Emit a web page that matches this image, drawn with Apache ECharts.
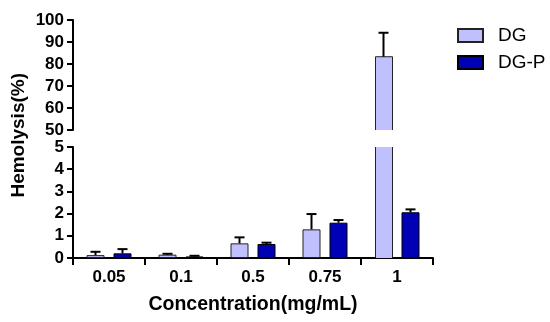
<!DOCTYPE html>
<html>
<head>
<meta charset="utf-8">
<script src="https://cdn.jsdelivr.net/npm/echarts@6/dist/echarts.min.js"></script>
<style>html,body{margin:0;padding:0;background:#fff}#c{width:550px;height:322px}</style>
</head>
<body>
<div id="c"></div>
<script>
const categories = ['0.05', '0.1', '0.5', '0.75', '1'];
const dgMean = [0.13, 0.15, 0.66, 1.29, 83.3];
const dgErr = [0.15, 0.04, 0.27, 0.69, 10.9];
const dgpMean = [0.21, 0.07, 0.63, 1.59, 2.06];
const dgpErr = [0.19, 0.03, 0.06, 0.12, 0.13];
const lowerTicks = [0, 1, 2, 3, 4, 5];
const upperTicks = [50, 60, 70, 80, 90, 100];

const LOW_MAX = lowerTicks[lowerTicks.length - 1];
const UP_MIN = upperTicks[0];
const DG_COLOR = '#c0c0ff';
const DGP_COLOR = '#0000b4';
const BAR_RATIO = 0.25, GAP_RATIO = 0.5;
const FONT = '"Liberation Sans", Arial, sans-serif';

function errData(means, errs, sign, upper) {
  const out = [];
  means.forEach((m, i) => {
    const top = m + errs[i];
    if (upper ? m >= UP_MIN : top <= LOW_MAX) out.push([i, m, top, sign]);
  });
  return out;
}

function renderErr(params, api) {
  const idx = api.value(0);
  const p0 = api.coord([idx, api.value(1)]);
  const p1 = api.coord([idx, api.value(2)]);
  const band = api.size([1, 0])[0];
  const bw = band * BAR_RATIO;
  const offset = api.value(3) * (bw + bw * GAP_RATIO) / 2;
  const x = p0[0] + offset;
  const cap = 5;
  const style = { stroke: '#000', lineWidth: 2 };
  return {
    type: 'group',
    children: [
      { type: 'line', shape: { x1: x, y1: p0[1], x2: x, y2: p1[1] }, style },
      { type: 'line', shape: { x1: x - cap, y1: p1[1], x2: x + cap, y2: p1[1] }, style }
    ]
  };
}

// Bar that crosses the axis break: drawn with outline on sides and top only.
function renderBreakBar(params, api) {
  const idx = api.value(0);
  const band = api.size([1, 0])[0];
  const bw = band * BAR_RATIO;
  const offset = api.value(3) * (bw + bw * GAP_RATIO) / 2;
  const pBase = api.coord([idx, api.value(1)]);
  const pTop = api.coord([idx, api.value(2)]);
  const cx = pBase[0] + offset;
  const x0 = Math.round(cx - bw / 2) + 0.5, x1 = Math.round(cx + bw / 2) - 0.5;
  const yb = pBase[1], yt = pTop[1];
  const children = [
    { type: 'rect', shape: { x: x0, y: yt, width: x1 - x0, height: yb - yt }, style: { fill: api.value(5) ? DG_COLOR : DG_COLOR } },
    { type: 'line', shape: { x1: x0, y1: yb, x2: x0, y2: yt }, style: { stroke: '#222', lineWidth: 1 } },
    { type: 'line', shape: { x1: x1, y1: yb, x2: x1, y2: yt }, style: { stroke: '#222', lineWidth: 1 } }
  ];
  if (api.value(4)) {
    children.push({ type: 'line', shape: { x1: x0, y1: yt, x2: x1, y2: yt }, style: { stroke: '#222', lineWidth: 1 } });
  }
  return { type: 'group', children };
}

function breakData(means, sign, upper) {
  const out = [];
  means.forEach((m, i) => {
    if (m > LOW_MAX) {
      if (upper) out.push([i, UP_MIN, m, sign, 1, 1]);
      else out.push([i, 0, LOW_MAX, sign, 0, 1]);
    }
  });
  return out;
}

const labelFont = { fontFamily: FONT, fontWeight: 'bold', fontSize: 17, color: '#000' };
const axisLine = { show: true, lineStyle: { color: '#000', width: 2 } };
const barCommon = { barWidth: (BAR_RATIO * 100) + '%', barGap: (GAP_RATIO * 100) + '%' };

const chart = echarts.init(document.getElementById('c'), null, { renderer: 'canvas' });
chart.setOption({
  animation: false,
  backgroundColor: '#fff',
  legend: {
    orient: 'vertical',
    left: 457, top: 26, padding: 0,
    icon: 'rect',
    itemWidth: 25, itemHeight: 13, itemGap: 8,
    data: ['DG', 'DG-P'],
    textStyle: { fontFamily: FONT, fontSize: 19, color: '#000', padding: [0, 0, 0, 10] }
  },
  graphic: [{
    type: 'text',
    left: 9, top: 73,
    rotation: Math.PI / 2,
    style: { text: 'Hemolysis(%)', font: 'bold 19px ' + FONT, fill: '#000' }
  }],
  grid: [
    { left: 73, right: 117, top: 20, height: 110 },
    { left: 73, right: 117, top: 147, height: 111 }
  ],
  xAxis: [
    { type: 'category', gridIndex: 0, data: categories, show: false },
    {
      type: 'category', gridIndex: 1, data: categories,
      axisLine, axisTick: { show: true, length: 7, lineStyle: { width: 2, color: '#000' } },
      axisLabel: Object.assign({ margin: 11 }, labelFont),
      name: 'Concentration(mg/mL)', nameLocation: 'middle', nameGap: 37,
      nameTextStyle: { fontFamily: FONT, fontWeight: 'bold', fontSize: 19.5, color: '#000' }
    }
  ],
  yAxis: [
    {
      type: 'value', gridIndex: 0, min: UP_MIN, max: upperTicks[upperTicks.length - 1], interval: 10,
      splitLine: { show: false }, axisLine, axisTick: { show: true, length: 6, lineStyle: { width: 2, color: '#000' } },
      axisLabel: Object.assign({ margin: 9 }, labelFont)
    },
    {
      type: 'value', gridIndex: 1, min: 0, max: LOW_MAX, interval: 1,
      splitLine: { show: false }, axisLine, axisTick: { show: true, length: 6, lineStyle: { width: 2, color: '#000' } },
      axisLabel: Object.assign({ margin: 9 }, labelFont)
    }
  ],
  series: [
    Object.assign({
      name: 'DG', type: 'bar', xAxisIndex: 1, yAxisIndex: 1,
      data: dgMean.map(v => v > LOW_MAX ? '-' : v),
      itemStyle: { color: DG_COLOR, borderColor: '#222', borderWidth: 1 }
    }, barCommon),
    Object.assign({
      name: 'DG-P', type: 'bar', xAxisIndex: 1, yAxisIndex: 1, data: dgpMean,
      itemStyle: { color: DGP_COLOR, borderColor: '#000', borderWidth: 1 }
    }, barCommon),
    { type: 'custom', xAxisIndex: 1, yAxisIndex: 1, renderItem: renderBreakBar, data: breakData(dgMean, -1, false), z: 3 },
    { type: 'custom', xAxisIndex: 0, yAxisIndex: 0, renderItem: renderBreakBar, data: breakData(dgMean, -1, true), z: 3 },
    { type: 'custom', xAxisIndex: 1, yAxisIndex: 1, renderItem: renderErr, data: errData(dgMean, dgErr, -1, false), z: 5 },
    { type: 'custom', xAxisIndex: 1, yAxisIndex: 1, renderItem: renderErr, data: errData(dgpMean, dgpErr, 1, false), z: 5 },
    { type: 'custom', xAxisIndex: 0, yAxisIndex: 0, renderItem: renderErr, data: errData(dgMean, dgErr, -1, true), z: 5 },
    { type: 'custom', xAxisIndex: 0, yAxisIndex: 0, renderItem: renderErr, data: errData(dgpMean, dgpErr, 1, true), z: 5 }
  ]
});
</script>
</body>
</html>
